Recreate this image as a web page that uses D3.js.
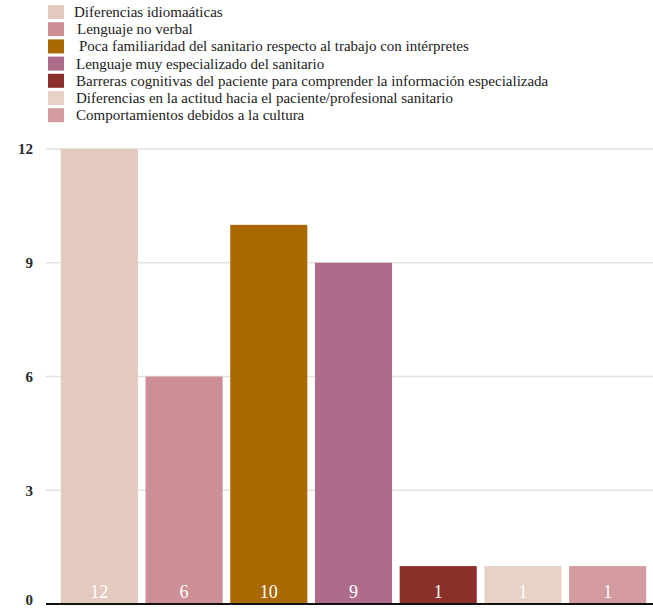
<!DOCTYPE html>
<html>
<head>
<meta charset="utf-8">
<script src="https://cdn.jsdelivr.net/npm/d3@7"></script>
</head>
<body style="margin:0">
<svg id="chart" width="653" height="609"></svg>
<script>
// Categories, counts and colours for each barrier type
const categories = [
  "Diferencias idiomaáticas",
  "Lenguaje no verbal",
  "Poca familiaridad del sanitario respecto al trabajo con intérpretes",
  "Lenguaje muy especializado del sanitario",
  "Barreras cognitivas del paciente para comprender la información especializada",
  "Diferencias en la actitud hacia el paciente/profesional sanitario",
  "Comportamientos debidos a la cultura"
];
const values = [12, 6, 10, 9, 1, 1, 1];
const colors = ["#e4c9be", "#cc8f95", "#a96800", "#ad6c8a", "#8b2f2b", "#e8d1c7", "#d39ba0"];
const yTicks = [0, 3, 6, 9, 12];

const FONT = '"Liberation Serif"';
const svg = d3.select("#chart");

const plot = { left: 46, right: 653, top: 149, bottom: 604 };

const x = d3.scaleBand()
  .domain(categories)
  .range([57, 650])
  .paddingInner(0.09)
  .paddingOuter(0.045);

const y = d3.scaleLinear()
  .domain([0, 12])
  .range([plot.bottom, plot.top]);

// Legend: colour swatch plus label for each category
const legendIndent = [0, 3, 5, 2, 2, 2, 2];
categories.forEach((d, i) => {
  const top = 5 + i * 17.2;
  svg.append("rect")
    .attr("x", 48)
    .attr("y", top)
    .attr("width", 16)
    .attr("height", 14)
    .attr("fill", colors[i]);
  const t = svg.append("text")
    .attr("x", 74 + legendIndent[i])
    .attr("y", top + 12)
    .style("font-family", FONT)
    .attr("font-size", 15)
    .attr("fill", "#222")
    .text(d);
  t.node().getComputedTextLength();
});

// Horizontal gridlines
svg.append("g")
  .selectAll("line")
  .data(yTicks.filter(d => d !== 0))
  .join("line")
  .attr("x1", plot.left)
  .attr("x2", plot.right)
  .attr("y1", d => y(d))
  .attr("y2", d => y(d))
  .attr("stroke", "#e2e2e2")
  .attr("stroke-width", 1.5);

// Bars
svg.append("g")
  .selectAll("rect")
  .data(categories)
  .join("rect")
  .attr("x", d => x(d))
  .attr("y", (d, i) => y(values[i]))
  .attr("width", x.bandwidth())
  .attr("height", (d, i) => y(0) - y(values[i]))
  .attr("fill", (d, i) => colors[i]);

// Baseline
svg.append("line")
  .attr("x1", plot.left)
  .attr("x2", plot.right)
  .attr("y1", y(0))
  .attr("y2", y(0))
  .attr("stroke", "#111")
  .attr("stroke-width", 2);

// Y axis tick labels (left axis without domain line or tick marks)
const yAxis = d3.axisLeft(y).tickValues(yTicks).tickSize(0).tickPadding(0).tickFormat(d3.format("d"));
const yG = svg.append("g")
  .attr("transform", "translate(33,0)")
  .call(yAxis);
yG.attr("font-family", null).attr("font-size", null);
yG.select(".domain").remove();
yG.selectAll("text")
  .style("font-family", FONT)
  .attr("font-size", 15)
  .attr("font-weight", "bold")
  .attr("fill", "#2a2a2a")
  .attr("dy", d => d === 0 ? "0.05em" : "0.32em")
  .each(function() { this.getComputedTextLength(); });

// Value labels inside bars
svg.selectAll("text.value")
  .data(categories)
  .join("text")
  .attr("class", "value")
  .attr("x", d => x(d) + x.bandwidth() / 2)
  .attr("y", y(0) - 6)
  .attr("text-anchor", "middle")
  .style("font-family", FONT)
  .attr("font-size", 18)
  .attr("fill", "#ffffff")
  .text((d, i) => values[i])
  .each(function() { this.getComputedTextLength(); });
</script>
</body>
</html>
